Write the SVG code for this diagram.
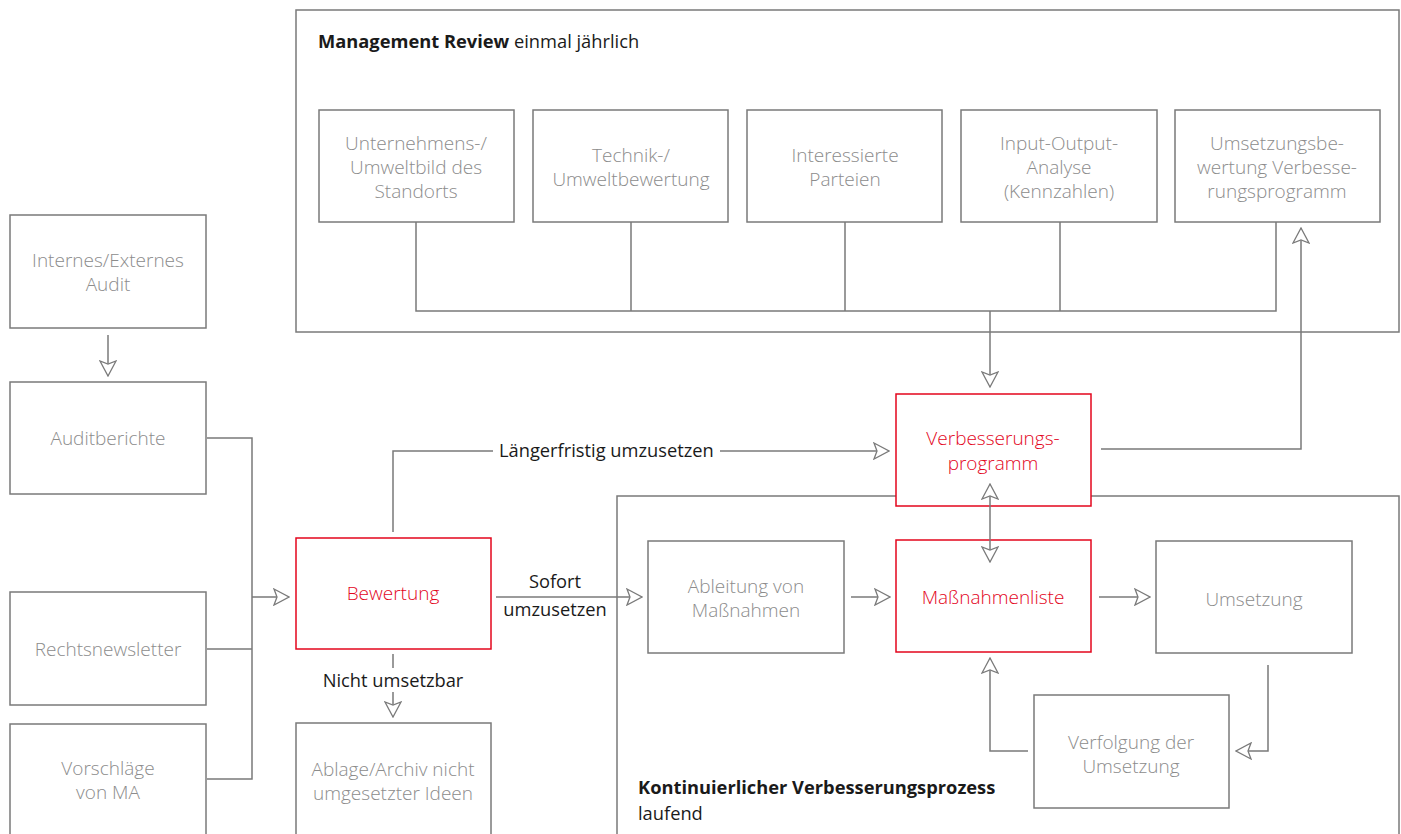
<svg xmlns="http://www.w3.org/2000/svg" width="1401" height="834" viewBox="0 0 1401 834">
<style>
.box{fill:#fff;stroke:#7a7a7a;stroke-width:1.5}
.red{fill:#fff;stroke:#e3061d;stroke-width:1.5}
.frame{fill:none;stroke:#7a7a7a;stroke-width:1.5}
.t{font-family:"Open Sans","Liberation Sans",sans-serif;font-size:19px;font-weight:300;fill:#8c8c8c;text-anchor:middle}
.tr{font-family:"Open Sans","Liberation Sans",sans-serif;font-size:19px;font-weight:300;fill:#e3061d;text-anchor:middle}
.lbl{font-family:"Open Sans","Liberation Sans",sans-serif;font-size:18.3px;fill:#1a1a1a}
.b{font-weight:bold}
.c{fill:none;stroke:#7a7a7a;stroke-width:1.5}
</style>
<defs>
<marker id="ah" viewBox="-1 -1 17 18" refX="15" refY="8" markerWidth="17" markerHeight="18" markerUnits="userSpaceOnUse" orient="auto-start-reverse">
<path d="M0,0 L15,8 L0,16 L3,8 Z" fill="#fff" stroke="#7a7a7a" stroke-width="1.3"/>
</marker>
</defs>
<rect width="1401" height="834" fill="#fff"/>

<g id="management-review">
<rect class="frame" x="296" y="10" width="1103" height="322"/>
<text class="lbl" x="318" y="48"><tspan class="b">Management Review</tspan> einmal jährlich</text>
</g>
<g id="kvp">
<rect class="frame" x="617" y="496" width="782" height="350"/>
<text class="lbl b" x="638" y="794">Kontinuierlicher Verbesserungsprozess</text>
<text class="lbl" x="638" y="820">laufend</text>
</g>

<g id="n-unternehmen"><rect class="box" x="319" y="110" width="195" height="112"/>
<text class="t" x="416" y="150">Unternehmens-/</text><text class="t" x="416" y="174">Umweltbild des</text><text class="t" x="416" y="198">Standorts</text></g>
<g id="n-technik"><rect class="box" x="533" y="110" width="195" height="112"/>
<text class="t" x="631" y="162">Technik-/</text><text class="t" x="631" y="186">Umweltbewertung</text></g>
<g id="n-parteien"><rect class="box" x="747" y="110" width="195" height="112"/>
<text class="t" x="845" y="162">Interessierte</text><text class="t" x="845" y="186">Parteien</text></g>
<g id="n-input"><rect class="box" x="961" y="110" width="196" height="112"/>
<text class="t" x="1059" y="150">Input-Output-</text><text class="t" x="1059" y="174">Analyse</text><text class="t" x="1059" y="198">(Kennzahlen)</text></g>
<g id="n-umsetzungsbewertung"><rect class="box" x="1175" y="110" width="205" height="112"/>
<text class="t" x="1277" y="150">Umsetzungsbe-</text><text class="t" x="1277" y="174">wertung Verbesse-</text><text class="t" x="1277" y="198">rungsprogramm</text></g>

<g id="n-audit"><rect class="box" x="10" y="215" width="196" height="113"/>
<text class="t" x="108" y="267">Internes/Externes</text><text class="t" x="108" y="291">Audit</text></g>
<g id="n-auditberichte"><rect class="box" x="10" y="382" width="196" height="112"/>
<text class="t" x="108" y="445">Auditberichte</text></g>
<g id="n-rechtsnewsletter"><rect class="box" x="10" y="592" width="196" height="113"/>
<text class="t" x="108" y="656">Rechtsnewsletter</text></g>
<g id="n-vorschlaege"><rect class="box" x="10" y="724" width="196" height="120"/>
<text class="t" x="108" y="775">Vorschläge</text><text class="t" x="108" y="799">von MA</text></g>

<g id="n-bewertung"><rect class="red" x="296" y="538" width="195" height="111"/>
<text class="tr" x="393" y="600">Bewertung</text></g>
<g id="n-ablage"><rect class="box" x="296" y="723" width="195" height="130"/>
<text class="t" x="393" y="776">Ablage/Archiv nicht</text><text class="t" x="393" y="800">umgesetzter Ideen</text></g>

<g id="n-verbesserungsprogramm"><rect class="red" x="896" y="394" width="195" height="112"/>
<text class="tr" x="993" y="445">Verbesserungs-</text><text class="tr" x="993" y="470">programm</text></g>
<g id="n-ableitung"><rect class="box" x="648" y="541" width="196" height="112"/>
<text class="t" x="746" y="593">Ableitung von</text><text class="t" x="746" y="617">Maßnahmen</text></g>
<g id="n-massnahmenliste"><rect class="red" x="896" y="540" width="195" height="112"/>
<text class="tr" x="993" y="604">Maßnahmenliste</text></g>
<g id="n-umsetzung"><rect class="box" x="1156" y="541" width="196" height="112"/>
<text class="t" x="1254" y="606">Umsetzung</text></g>
<g id="n-verfolgung"><rect class="box" x="1034" y="695" width="195" height="113"/>
<text class="t" x="1131" y="749">Verfolgung der</text><text class="t" x="1131" y="773">Umsetzung</text></g>

<g id="connectors">
<path class="c" d="M416,222 V311 H1276 V222 M631,222 V311 M845,222 V311 M1060,222 V311"/>
<path class="c" d="M990,311 V387" marker-end="url(#ah)"/>
<path class="c" d="M1101,449 H1301 V228" marker-end="url(#ah)"/>
<path class="c" d="M108,335 V376" marker-end="url(#ah)"/>
<path class="c" d="M207,438 H252 V779 H207 M207,649 H252 M252,597 H289" marker-end="url(#ah)"/>
<path class="c" d="M393,532 V451 H493"/>
<path class="c" d="M720,451 H889" marker-end="url(#ah)"/>
<path class="c" d="M496,597 H642" marker-end="url(#ah)"/>
<path class="c" d="M393,654 V668 M393,692 V717" marker-end="url(#ah)"/>
<path class="c" d="M851,597 H890" marker-end="url(#ah)"/>
<path class="c" d="M1099,597 H1150" marker-end="url(#ah)"/>
<path class="c" d="M990,484 V562" marker-start="url(#ah)" marker-end="url(#ah)"/>
<path class="c" d="M1268,665 V751 H1236" marker-end="url(#ah)"/>
<path class="c" d="M1028,751 H990 V658" marker-end="url(#ah)"/>
<text class="lbl" x="499" y="457">Längerfristig umzusetzen</text>
<text class="lbl" x="555" y="588" text-anchor="middle">Sofort</text>
<text class="lbl" x="555" y="616" text-anchor="middle">umzusetzen</text>
<text class="lbl" x="393" y="687" text-anchor="middle">Nicht umsetzbar</text>
</g>
</svg>
